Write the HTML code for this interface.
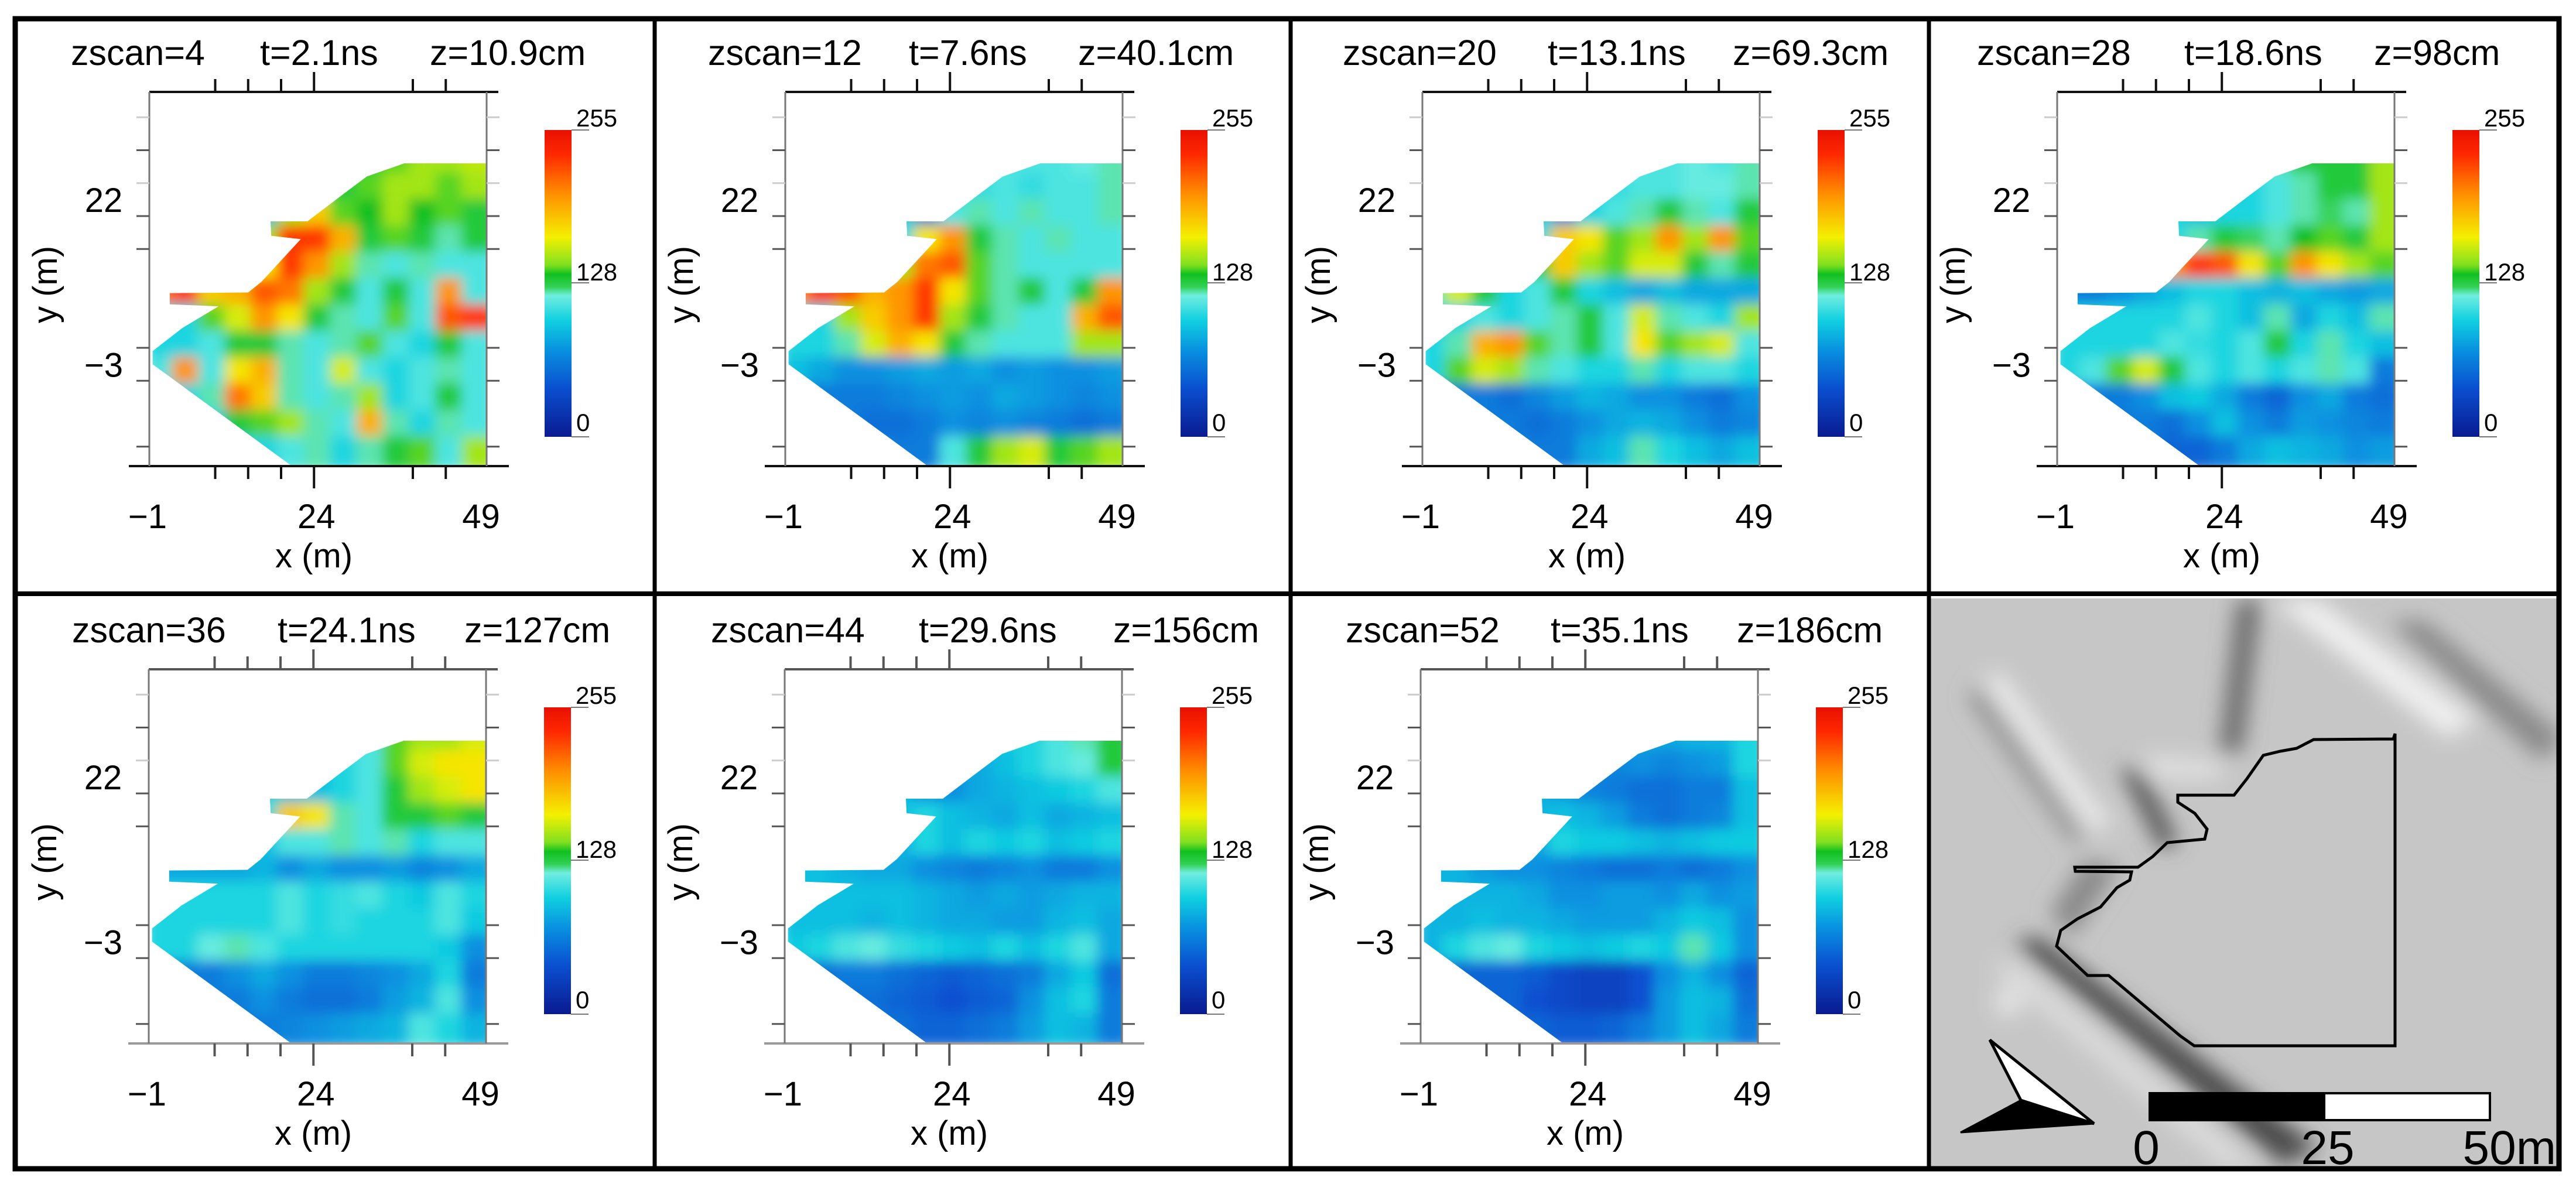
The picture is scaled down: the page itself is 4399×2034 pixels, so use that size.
<!DOCTYPE html>
<html><head><meta charset="utf-8"><style>
html,body{margin:0;padding:0;background:#fff}
svg{display:block}
text{font-family:"Liberation Sans",sans-serif;fill:#000}
</style></head><body>
<svg id="fig" width="4399" height="2034" viewBox="0 0 4399 2034" xmlns="http://www.w3.org/2000/svg">
<defs>
<linearGradient id="cbar" x1="0" y1="1" x2="0" y2="0">
<stop offset="0" stop-color="#0a1a90"/><stop offset="0.16" stop-color="#0a50d0"/><stop offset="0.28" stop-color="#0890e0"/><stop offset="0.38" stop-color="#10d0e0"/><stop offset="0.46" stop-color="#70eee0"/><stop offset="0.49" stop-color="#30d050"/><stop offset="0.53" stop-color="#10c020"/><stop offset="0.56" stop-color="#80e020"/><stop offset="0.65" stop-color="#f4f000"/><stop offset="0.79" stop-color="#ff9000"/><stop offset="0.92" stop-color="#ff2800"/><stop offset="1" stop-color="#e81000"/>
</linearGradient>
<filter id="blur" x="-10%" y="-10%" width="120%" height="120%"><feGaussianBlur stdDeviation="11"/></filter>
<filter id="hblur" x="-20%" y="-20%" width="140%" height="140%"><feGaussianBlur stdDeviation="18"/></filter>
<clipPath id="mapclip"><rect x="3296" y="1022" width="1075" height="972"/></clipPath>
</defs>
<g id="panels"></g>
<g id="map" clip-path="url(#mapclip)">
<rect x="3296" y="1022" width="1075" height="972" fill="#c6c6c6"/>
<g filter="url(#hblur)">
<polygon points="3820,1025 3860,1025 3830,1280 3790,1290" fill="#6a6a6a"/>
<polygon points="3880,1025 3960,1025 4230,1230 4180,1260" fill="#f0f0f0"/>
<polygon points="4080,1060 4140,1060 4380,1260 4340,1300" fill="#8a8a8a"/>
<polygon points="3380,1160 3420,1150 3610,1410 3570,1420" fill="#e8e8e8"/>
<polygon points="3360,1190 3380,1170 3560,1430 3540,1440" fill="#8c8c8c"/>
<polygon points="3620,1310 3660,1320 3720,1440 3690,1450" fill="#505050"/>
<polygon points="3660,1290 3800,1300 3790,1330 3670,1330" fill="#e0e0e0"/>
<polygon points="3440,1610 3480,1600 3960,1960 3900,1990" fill="#4a4a4a"/>
<polygon points="3400,1650 3440,1640 3860,1994 3800,1994" fill="#dcdcdc"/>
<polygon points="3500,1560 3560,1470 3620,1480 3540,1600" fill="#8a8a8a"/>
<polygon points="3400,1700 3440,1680 3460,1720 3420,1740" fill="#e4e4e4"/>
</g>
<polygon id="site-outline" fill="none" stroke="#000" stroke-width="5" points="4090,1253 4090,1786 3747,1786 3723,1769 3601,1666 3565,1666 3512,1616 3519,1589 3548,1569 3587,1549 3615,1516 3637,1503 3640,1489 3544,1488 3543,1481 3651,1481 3676,1463 3701,1439 3765,1433 3769,1416 3748,1389 3719,1370 3719,1358 3815,1358 3837,1330 3865,1290 3894,1283 3922,1278 3951,1263 4087,1262 4090,1253"/>
<polygon points="3398,1776 3451,1879 3576,1919" fill="#fff" stroke="#000" stroke-width="5"/>
<polygon points="3451,1879 3576,1919 3348,1934" fill="#000" stroke="#000" stroke-width="3"/>
<rect x="3671" y="1867" width="298" height="46" fill="#000" stroke="#000" stroke-width="4"/>
<rect x="3969" y="1867" width="283" height="46" fill="#fff" stroke="#000" stroke-width="4"/>
<text x="3665" y="1988" font-size="82" text-anchor="middle">0</text>
<text x="3975" y="1988" font-size="82" text-anchor="middle">25</text>
<text x="4365" y="1988" font-size="82" text-anchor="end">50m</text>
</g>
<g id="frame" stroke="#000" fill="none">
<rect x="26" y="32" width="4344" height="1964" stroke-width="9"/>
<line x1="1118" y1="30" x2="1118" y2="1998" stroke-width="7"/>
<line x1="2204" y1="30" x2="2204" y2="1998" stroke-width="7"/>
<line x1="3294" y1="30" x2="3294" y2="1998" stroke-width="7"/>
<line x1="24" y1="1014" x2="4372" y2="1014" stroke-width="8"/>
</g>
</svg>
<script>
const xCenters=[1,5,9,13,17,21,25,29,33,37,41,45,49];
const yCenters=[30,26,22,18,14,10,6,2,-2,-6,-10,-14];
const xTickLabels=["−1","24","49"];
const yTickLabels=["22","−3"];
const colorbarLabels=["255","128","0"];
const panelTitles=[["zscan=4","t=2.1ns","z=10.9cm"],["zscan=12","t=7.6ns","z=40.1cm"],["zscan=20","t=13.1ns","z=69.3cm"],["zscan=28","t=18.6ns","z=98cm"],["zscan=36","t=24.1ns","z=127cm"],["zscan=44","t=29.6ns","z=156cm"],["zscan=52","t=35.1ns","z=186cm"]];
const maskPolygon=[[37.7,30],[50.1,30],[50.1,-16],[20.7,-16],[-0.5,-0.5],[-0.5,1.5],[4,5],[9.5,8.3],[2.1,8.6],[2.1,10.3],[14,10.4],[16,12],[22,18.5],[17.5,19],[17.4,21.2],[23,21.2],[28,25],[32,28],[37.7,30]];
const panel1Values=[
[100,100,100,100,100,100,100,120,130,140,150,150,155],
[100,100,100,100,100,110,120,130,140,150,150,140,150],
[100,100,100,100,90,150,180,140,135,150,135,140,130],
[100,100,100,100,150,230,230,190,130,140,130,120,130],
[100,100,100,140,170,230,200,150,120,110,120,110,110],
[210,230,180,190,220,210,150,130,110,130,110,200,110],
[100,100,140,160,200,170,130,120,110,140,110,220,230],
[100,100,110,130,130,120,110,120,140,110,100,130,110],
[110,200,110,170,190,120,110,160,110,100,110,120,110],
[100,100,120,210,180,120,110,120,150,100,110,130,110],
[100,100,100,130,140,150,120,110,190,120,100,120,110],
[100,100,100,100,100,110,120,100,120,130,140,110,150]];
const panel2Values=[
[100,100,100,100,100,100,100,110,110,110,110,115,120],
[100,100,100,100,100,100,100,105,110,105,110,110,120],
[100,100,100,100,100,60,110,120,110,120,110,110,120],
[100,100,100,100,100,170,200,130,120,110,120,110,110],
[100,100,100,100,150,210,220,140,120,110,110,110,110],
[200,230,220,190,200,230,170,140,120,130,110,130,200],
[100,100,150,180,200,230,150,130,120,110,110,190,220],
[100,100,120,160,190,170,130,120,110,110,110,150,150],
[90,80,70,70,75,80,75,80,70,75,70,70,75],
[60,60,60,60,65,70,75,70,80,75,70,65,70],
[60,60,60,55,55,60,70,65,70,65,60,55,60],
[60,60,60,60,60,60,110,130,150,160,130,140,150]];
const panel3Values=[
[100,100,100,100,100,100,100,105,110,110,115,110,120],
[100,100,100,100,100,100,95,105,110,110,115,115,120],
[100,100,100,100,100,70,100,110,120,130,120,110,130],
[100,100,100,100,100,180,170,140,150,200,150,200,140],
[100,100,100,100,130,180,150,140,160,160,130,120,130],
[120,160,130,100,110,130,100,90,80,90,80,80,80],
[100,100,110,100,110,120,130,110,160,120,110,100,150],
[100,120,190,200,140,120,130,110,170,140,150,160,110],
[100,140,160,150,120,110,100,100,120,100,110,110,100],
[60,60,60,55,65,75,85,80,70,70,60,55,70],
[60,60,60,60,55,60,70,80,85,80,70,60,65],
[60,60,60,60,60,60,80,90,120,100,90,80,90]];
const panel4Values=[
[100,100,100,100,100,100,100,110,120,130,130,130,150],
[100,100,100,100,100,100,80,100,110,120,130,130,150],
[100,100,100,100,100,90,100,100,110,120,125,120,150],
[100,100,100,100,100,120,130,125,120,135,140,130,150],
[100,100,100,100,200,230,220,170,140,200,170,150,140],
[60,60,70,80,90,100,100,90,85,90,80,75,80],
[100,100,100,100,100,110,100,90,120,80,100,90,120],
[100,100,100,100,110,105,100,110,130,100,120,100,90],
[100,110,140,160,130,110,100,110,100,110,120,110,60],
[60,60,60,70,90,95,80,60,50,70,80,60,55],
[60,60,60,60,55,70,90,70,60,75,70,65,60],
[60,60,60,60,50,50,60,80,90,85,80,70,75]];
const panel5Values=[
[100,100,100,100,100,100,100,100,110,140,150,150,160],
[100,100,100,100,100,100,80,100,110,140,160,170,170],
[100,100,100,100,100,90,90,100,110,130,150,160,170],
[100,100,100,100,100,180,170,120,110,130,130,140,130],
[100,100,100,100,90,110,110,120,110,120,100,110,110],
[80,80,80,80,85,70,80,70,70,75,65,70,80],
[100,100,100,100,100,110,100,105,110,100,95,110,100],
[100,100,100,100,100,110,100,105,100,100,100,110,95],
[100,100,115,120,110,100,100,100,100,100,100,95,70],
[60,60,60,70,80,70,60,60,65,70,80,100,60],
[60,60,60,60,70,60,55,55,60,75,85,110,70],
[60,60,60,60,60,65,70,75,80,85,110,100,85]];
const panel6Values=[
[90,90,90,90,90,90,90,90,95,100,110,120,130],
[90,90,90,90,90,90,70,80,90,100,110,115,130],
[90,90,90,90,90,70,70,80,85,90,95,100,110],
[90,90,90,90,90,100,90,85,80,90,80,85,90],
[90,90,90,90,85,100,90,100,95,100,90,95,100],
[90,90,85,80,80,70,65,60,65,70,60,60,70],
[90,90,90,90,90,85,80,75,80,75,80,85,85],
[90,90,90,85,90,85,80,80,75,75,85,90,80],
[95,100,110,115,105,100,95,90,100,90,100,110,80],
[55,55,60,60,55,50,45,50,55,60,80,95,55],
[55,55,55,55,50,45,40,45,50,70,90,100,60],
[55,55,55,55,55,50,50,55,60,75,90,85,60]];
const panel7Values=[
[85,85,85,85,85,85,85,85,80,80,85,85,100],
[85,85,85,85,85,85,60,65,70,65,70,75,100],
[85,85,85,85,85,75,65,60,55,55,60,60,90],
[85,85,85,85,85,90,85,75,60,55,60,65,90],
[85,85,85,85,80,100,95,95,90,85,90,95,95],
[85,85,75,70,70,65,60,55,55,60,55,60,70],
[85,85,85,85,80,70,70,75,75,70,80,70,75],
[85,85,90,85,85,80,75,75,75,85,95,90,70],
[85,100,110,115,100,95,90,95,100,95,120,95,70],
[50,50,50,50,45,35,30,30,40,70,85,70,50],
[50,50,50,50,40,35,30,30,40,75,90,85,55],
[50,50,50,50,50,45,45,50,60,75,90,80,60]];
const allPanelValues=[panel1Values,panel2Values,panel3Values,panel4Values,panel5Values,panel6Values,panel7Values];

const NS="http://www.w3.org/2000/svg";
const plotLefts=[255,1341,2429,3513,254,1340,2426];
const plotTops=[157,157,157,157,1143,1143,1143];
const titleOffsets=[[-134,189,479],[-132,211,500],[-136,214,530],[-137,217,541],[-131,220,539],[-126,229,561],[-128,222,540]];
const U=11.25;
function xPx(pl,v){return pl+(v+1)*U;}
function yPx(pt,v){return pt+212+(22-v)*U;}
const cStops=[[0,[10,26,144]],[40,[10,80,208]],[70,[8,144,224]],[97,[16,208,224]],[117,[112,238,224]],[126,[48,208,80]],[135,[16,192,32]],[143,[128,224,32]],[166,[244,240,0]],[202,[255,144,0]],[235,[255,40,0]],[255,[232,16,0]]];
function colorOf(v){
  for(let i=1;i<cStops.length;i++){
    if(v<=cStops[i][0]){const a=cStops[i-1],b=cStops[i];const t=(v-a[0])/(b[0]-a[0]);
      const c=a[1].map((x,k)=>Math.round(x+(b[1][k]-x)*t));return "rgb("+c[0]+","+c[1]+","+c[2]+")";}
  }
  return "rgb(232,16,0)";
}
function mk(tag,attrs,parent){const e=document.createElementNS(NS,tag);for(const k in attrs)e.setAttribute(k,attrs[k]);parent.appendChild(e);return e;}
const root=document.getElementById('panels');
const defs=document.querySelector('defs');
allPanelValues.forEach((vals,p)=>{
  const pl=plotLefts[p],pt=plotTops[p];
  const dark=p<4?"#111":"#555";
  const g=mk('g',{},root);
  
  
  const cp=mk('clipPath',{id:'mask'+p},defs);
  mk('polygon',{points:maskPolygon.map(q=>xPx(pl,q[0])+','+yPx(pt,q[1])).join(' ')},cp);
  const hg=mk('g',{'clip-path':'url(#mask'+p+')'},g);
  
  
  const bg=mk('g',{filter:'url(#blur)'},hg);
  vals.forEach((row,r)=>row.forEach((v,c)=>{
    const rc=mk('rect',{x:xPx(pl,xCenters[c]-2.6),y:yPx(pt,yCenters[r]+2.6),width:U*5.2,height:U*5.2,fill:colorOf(v)},bg);
    
    
  }));
  const ax=mk('g',{stroke:dark,'stroke-width':4,fill:'none'},g);
  
  
  const right=xPx(pl,50.2),bottom=yPx(pt,-15.96),top=pt;
  mk('line',{x1:pl,y1:top,x2:right+20,y2:top},ax);
  mk('line',{x1:pl-35,y1:bottom,x2:right+38,y2:bottom,stroke:p<4?"#111":"#999"},ax);
  mk('line',{x1:pl,y1:top,x2:pl,y2:bottom,stroke:'#777','stroke-width':3},ax);
  mk('line',{x1:right,y1:top,x2:right,y2:bottom,stroke:'#777','stroke-width':3},ax);
  [9,14,19,24,39,44].forEach(v=>{
    const L=v===24?34:22;
    mk('line',{x1:xPx(pl,v),y1:top,x2:xPx(pl,v),y2:top-L},ax);
    mk('line',{x1:xPx(pl,v),y1:bottom,x2:xPx(pl,v),y2:bottom+(v===24?38:22)},ax);
  });
  [37,32,27,22,17,2,-3,-13].forEach(v=>{
    const s=(v===37||v===27)?'#ccc':'#555';
    mk('line',{x1:pl-22,y1:yPx(pt,v),x2:pl,y2:yPx(pt,v),stroke:s,'stroke-width':3},ax);
    mk('line',{x1:right,y1:yPx(pt,v),x2:right+22,y2:yPx(pt,v),stroke:s,'stroke-width':3},ax);
  });
  [-1,24,49].forEach((v,i)=>{
    const t=mk('text',{x:xPx(pl,v)+(i===0?-3:4),y:pt+745,'font-size':58,'text-anchor':'middle'},g);
    t.textContent=xTickLabels[i];
    
    
  });
  [22,-3].forEach((v,i)=>{
    const t=mk('text',{x:pl-78,y:yPx(pt,v)-7,'font-size':58,'text-anchor':'middle'},g);
    t.textContent=yTickLabels[i];
    
    
  });
  const xt=mk('text',{x:pl+281,y:pt+812,'font-size':58,'text-anchor':'middle'},g);
  xt.textContent='x (m)';
  
  
  const yt=mk('text',{x:0,y:0,'font-size':58,'text-anchor':'middle',transform:'translate('+(pl-158)+','+(pt+329)+') rotate(-90)'},g);
  yt.textContent='y (m)';
  
  
  panelTitles[p].forEach((s,i)=>{
    const t=mk('text',{x:pl+titleOffsets[p][i],y:pt-46,'font-size':61},g);
    t.textContent=s;
    
    
  });
  const cx=pl+675,ct=pt+65,ch=524;
  const cb=mk('rect',{x:cx,y:ct,width:46,height:ch,fill:'url(#cbar)'},g);
  
  
  [255,128,0].forEach((v,i)=>{
    const yy=ct+ch*(1-v/255);
    mk('line',{x1:cx+46,y1:yy,x2:cx+76,y2:yy,stroke:'#777','stroke-width':2},g);
    const t=mk('text',{x:cx+54,y:yy+(i===0?-6:(i===1?-4:-10)),'font-size':42},g);
    t.textContent=colorbarLabels[i];
    
    
  });
});
</script>
</body></html>
